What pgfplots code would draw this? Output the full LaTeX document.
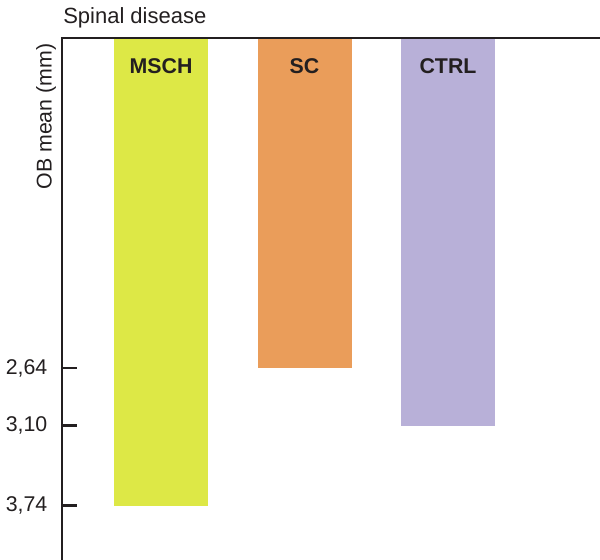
\documentclass[border=0pt]{standalone}
\usepackage{pgfplots}
\pgfplotsset{compat=1.18}
\usepackage{fontspec}
\setmainfont{Liberation Sans}
\definecolor{cMSCH}{RGB}{221,232,70}
\definecolor{cSC}{RGB}{234,157,90}
\definecolor{cCTRL}{RGB}{184,176,216}
\definecolor{ink}{RGB}{35,31,32}
\begin{document}
\begin{tikzpicture}
\useasboundingbox (0,0) rectangle (450pt,-420pt);
\begin{axis}[
  at={(46.5pt,-28.5pt)}, anchor=north west,
  scale only axis, width=403.5pt, height=391.5pt,
  xmin=-0.690, xmax=3.059, ymin=0, ymax=4.176, y dir=reverse,
  axis x line=none, axis y line=left,
  axis line style={-, line width=1.9pt, ink},
  xtick=\empty,
  ytick={2.64,3.10,3.74},
  yticklabels={{2,64},{3,10},{3,74}},
  tick align=inside, major tick length=11.25pt,
  ytick style={line width=1.6pt, ink},
  yticklabel style={font=\fontsize{16}{16}\selectfont, text=ink, xshift=-7.5pt},
  /pgf/number format/assume math mode=true,
  clip=false,
]
\addplot[ybar, bar width=70.5pt, bar shift=0pt, fill=cMSCH, draw=none] coordinates {(0,3.74)};
\addplot[ybar, bar width=70.5pt, bar shift=0pt, fill=cSC, draw=none] coordinates {(1,2.64)};
\addplot[ybar, bar width=70.5pt, bar shift=0pt, fill=cCTRL, draw=none] coordinates {(2,3.10)};
\node[anchor=base, text=ink, font=\fontsize{16}{16}\selectfont\bfseries] at (axis cs:0,0.28) {MSCH};
\node[anchor=base, text=ink, font=\fontsize{16}{16}\selectfont\bfseries] at (axis cs:1,0.28) {SC};
\node[anchor=base, text=ink, font=\fontsize{16}{16}\selectfont\bfseries] at (axis cs:2,0.28) {CTRL};
\end{axis}
\draw[line width=1.9pt, ink] (45.6pt,-28.5pt) -- (450pt,-28.5pt);
\node[anchor=base west, inner sep=0pt, text=ink, font=\fontsize{16.5}{16.5}\selectfont] at (47.25pt,-18pt) {Spinal disease};
\node[rotate=90, anchor=center, inner sep=0pt, text=ink, font=\fontsize{16}{16}\selectfont] at (34.5pt,-87.4pt) {OB mean (mm)};
\end{tikzpicture}
\end{document}
